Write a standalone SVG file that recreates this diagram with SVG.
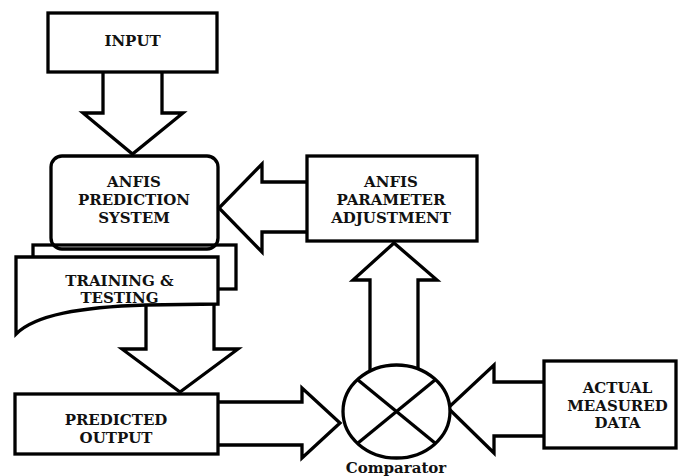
<svg xmlns="http://www.w3.org/2000/svg" width="679" height="476" viewBox="0 0 679 476">
<style>
.b{fill:#fff;stroke:#000;stroke-width:3.3;stroke-linejoin:miter}
.o{fill:none;stroke:#000;stroke-width:3.3}
.a{fill:#fff;stroke:#000;stroke-width:3.3;stroke-linejoin:miter}
.t{font-family:"DejaVu Serif",serif;font-weight:bold;font-size:15px;text-anchor:middle;fill:#111}
</style>
<rect width="679" height="476" fill="#fff"/>
<g id="connectors">
<polyline class="a" points="103,72 103,113 83,113 132.5,154 183,113 162,113 162,72"/>
<polyline class="a" points="146,305 146,349 122,349 180,392 238,349 214,349 214,304"/>
<polyline class="a" points="307,182 262,182 262,164 219,208 262,252 262,232 307,232"/>
<polyline class="a" points="218,402 302,402 302,388 340,423 302,458 302,445 218,445"/>
<polyline class="a" points="370,371 370,280 353,280 394,243 437,280 418,280 418,371"/>
<polyline class="a" points="544,382 494,382 494,365 448,408 494,453 494,436 544,436"/>
</g>
<g id="input">
<rect class="b" x="48" y="13" width="169" height="59"/>
<text class="t" x="132.5" y="46">INPUT</text>
</g>
<g id="training">
<rect class="b" x="33" y="245" width="203" height="44"/>
<path class="b" d="M16,334 V257 H218 V304 L146,305 C80,307 35,315 16,334 Z"/>
<text class="t" x="119.5" y="286">TRAINING &amp;</text>
<text class="t" x="119.5" y="303">TESTING</text>
</g>
<g id="anfis">
<rect class="o" x="51" y="156" width="167" height="93" rx="11"/>
<text class="t" x="134" y="187">ANFIS</text>
<text class="t" x="134" y="205">PREDICTION</text>
<text class="t" x="134" y="223">SYSTEM</text>
</g>
<g id="param">
<rect class="b" x="307" y="156" width="170" height="85"/>
<text class="t" x="391" y="187">ANFIS</text>
<text class="t" x="391" y="205">PARAMETER</text>
<text class="t" x="391" y="223">ADJUSTMENT</text>
</g>
<g id="predicted">
<rect class="b" x="15" y="394" width="203" height="60"/>
<text class="t" x="116" y="425">PREDICTED</text>
<text class="t" x="116" y="443">OUTPUT</text>
</g>
<g id="comparator">
<ellipse class="b" cx="396.5" cy="411.5" rx="53.5" ry="46.5"/>
<line class="o" x1="358" y1="380" x2="435" y2="443"/>
<line class="o" x1="435" y1="380" x2="358" y2="443"/>
<text class="t" x="396" y="473" style="font-size:15px">Comparator</text>
</g>
<g id="actual">
<rect class="b" x="544" y="361" width="132" height="87"/>
<text class="t" x="617.5" y="393">ACTUAL</text>
<text class="t" x="617.5" y="411">MEASURED</text>
<text class="t" x="617.5" y="428">DATA</text>
</g>
</svg>
